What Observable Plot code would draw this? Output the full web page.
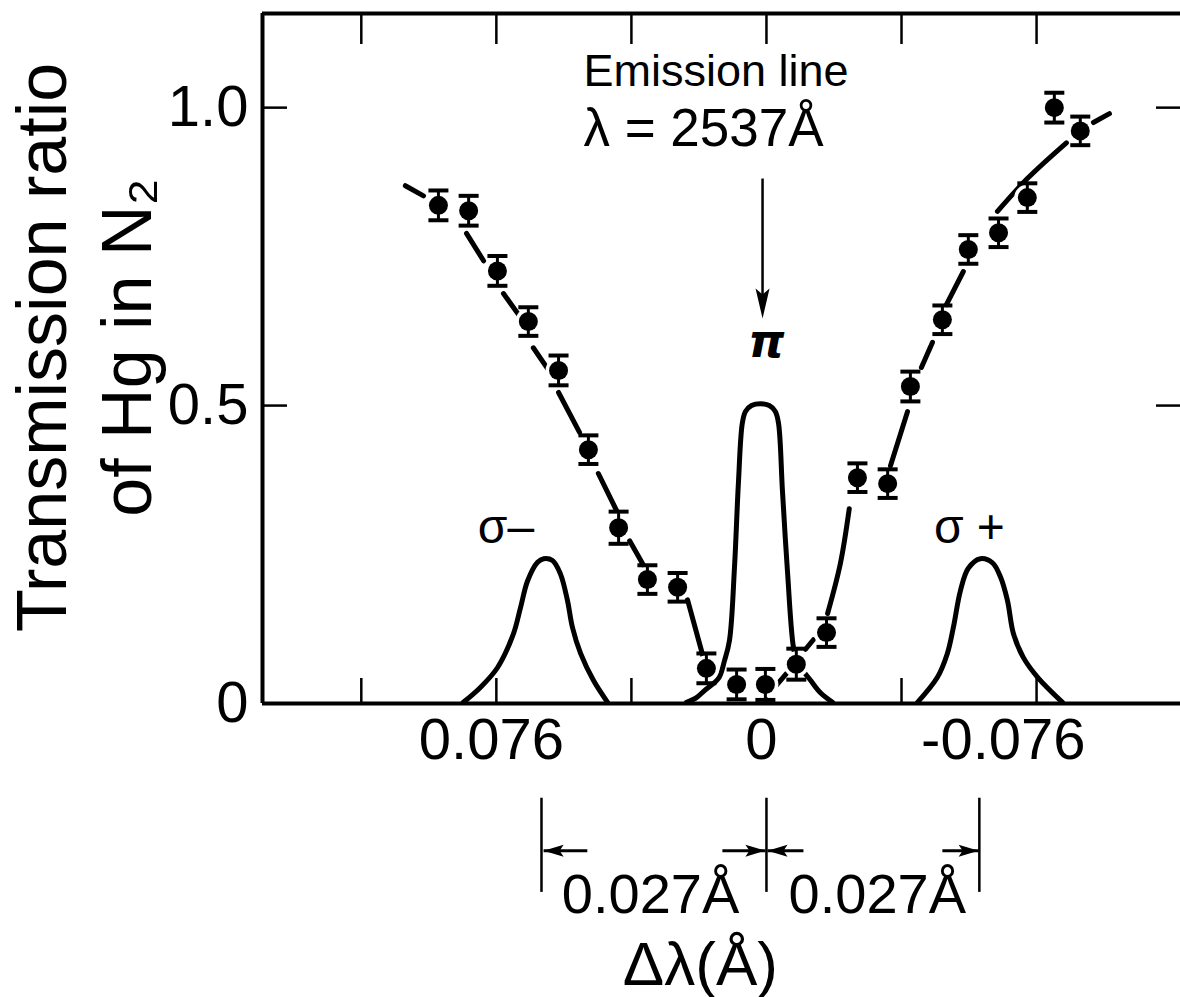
<!DOCTYPE html>
<html>
<head>
<meta charset="utf-8">
<script src="https://cdn.jsdelivr.net/npm/d3@7"></script>
<script src="https://cdn.jsdelivr.net/npm/@observablehq/plot@0.6"></script>
<style>
  html, body { margin: 0; padding: 0; background: #fff; }
  #chart svg { display: block; }
</style>
</head>
<body>
<div id="chart"></div>
<script>
// ---- axis ticks (Å and transmission ratio) ----
const xTickValues = [0.114, 0.076, 0.038, 0, -0.038, -0.076];
const xLabelValues = [0.076, 0, -0.076];
const yTickValues = [0, 0.5, 1.0];

// ---- measured transmission ratio (points with error bars) ----
const shift = [0.0923, 0.0838, 0.0757, 0.0670, 0.0585, 0.0501, 0.0416, 0.0335, 0.0250, 0.0169, 0.0084, 0.0003,
               -0.0084, -0.0169, -0.0256, -0.0341, -0.0405, -0.0495, -0.0568, -0.0653, -0.0734, -0.0810, -0.0883];
const ratio = [0.836, 0.827, 0.726, 0.641, 0.559, 0.426, 0.295, 0.208, 0.195, 0.059, 0.032, 0.032,
               0.066, 0.119, 0.379, 0.369, 0.532, 0.644, 0.762, 0.790, 0.849, 1.000, 0.961];
const err   = [0.025, 0.025, 0.025, 0.024, 0.025, 0.024, 0.027, 0.024, 0.024, 0.025, 0.025, 0.026,
               0.026, 0.024, 0.024, 0.024, 0.025, 0.024, 0.024, 0.024, 0.024, 0.025, 0.024];

// ---- hand-drawn fit curve (broken into dashes between the points) ----
const fitSeg = ["A","A","B","B","C","C","D","D","E","E","G","G","H","H","I","I","J","J","K","K",
                "L","L","L","M","M","N","N","O","O","P","P","P","Q","Q"];
const fitX = [0.1016, 0.0965, 0.0844, 0.0796, 0.0740, 0.0692, 0.0656, 0.0616, 0.0585, 0.0526,
              0.0473, 0.0422, 0.0385, 0.0346, 0.0222, 0.0177, -0.0020, -0.0056, -0.0110, -0.0132,
              -0.0172, -0.0208, -0.0233, -0.0349, -0.0397, -0.0436, -0.0467, -0.0506, -0.0554,
              -0.0650, -0.0734, -0.0844, -0.0920, -0.0965];
const fitY = [0.869, 0.852, 0.789, 0.743, 0.688, 0.648, 0.597, 0.562, 0.522, 0.455,
              0.386, 0.324, 0.273, 0.232, 0.174, 0.076, 0.025, 0.050, 0.091, 0.107,
              0.151, 0.235, 0.327, 0.399, 0.490, 0.564, 0.606, 0.669, 0.725,
              0.826, 0.881, 0.941, 0.975, 0.990];

// ---- Zeeman components of the emission line ----
const piX = [0.0225, 0.0197, 0.0172, 0.0135, 0.0118, 0.0104, 0.0090, 0.0079, 0.0068, 0.0059, 0.0042, 0.0017,
             -0.0008, -0.0025, -0.0034, -0.0045, -0.0059, -0.0076, -0.0087, -0.0124, -0.0152, -0.0186];
const piY = [0.002, 0.010, 0.023, 0.042, 0.072, 0.106, 0.228, 0.369, 0.470, 0.490, 0.500, 0.503,
             0.500, 0.490, 0.470, 0.357, 0.223, 0.094, 0.069, 0.039, 0.018, 0.002];
const sigmaMinusX = [0.0853, 0.0805, 0.0757, 0.0712, 0.0692, 0.0672, 0.0644, 0.0627, 0.0602, 0.0580,
                     0.0560, 0.0546, 0.0523, 0.0487, 0.0447];
const sigmaMinusY = [0.002, 0.027, 0.060, 0.117, 0.161, 0.206, 0.237, 0.243, 0.240, 0.218,
                     0.173, 0.128, 0.084, 0.039, 0.002];
const sigmaPlusX = [-0.0425, -0.0481, -0.0509, -0.0526, -0.0546, -0.0568, -0.0602, -0.0636, -0.0658,
                    -0.0678, -0.0695, -0.0723, -0.0763, -0.0833];
const sigmaPlusY = [0.002, 0.044, 0.084, 0.128, 0.190, 0.227, 0.243, 0.236, 0.213,
                    0.173, 0.117, 0.077, 0.044, 0.002];

// ---- splitting annotation below the axis ----
const splitBars = [0.0633, 0, -0.0599];
const splitArrowFrom = [0.0504, 0.0124, -0.0104, -0.0495];
const splitArrowTo   = [0.0627, 0.0003, -0.0003, -0.0597];
const splitLabelX = [0.0326, -0.0312];
const splitLabels = ["0.027Å", "0.027Å"];

// ---- build tables ----
const points = shift.map((x, i) => ({x, y: ratio[i], lo: ratio[i] - err[i], hi: ratio[i] + err[i]}));
const fit = fitX.map((x, i) => ({x, y: fitY[i], seg: fitSeg[i]}));
const pi = piX.map((x, i) => ({x, y: piY[i]}));
const sMinus = sigmaMinusX.map((x, i) => ({x, y: sigmaMinusY[i]}));
const sPlus = sigmaPlusX.map((x, i) => ({x, y: sigmaPlusY[i]}));
const arrows = splitArrowFrom.map((x1, i) => ({x1, x2: splitArrowTo[i], dir: splitArrowTo[i] < x1 ? 0 : 180}));

const xDomain = [0.1418, -0.1165];
const yDomain = [0, 1.158];
const barY = [-0.159, -0.317];
const arrowY = -0.247;

const FONT = "'Liberation Sans', Arial, Helvetica, sans-serif";

// custom symbols
const capSymbol = {draw(ctx) { ctx.moveTo(-10, 0); ctx.lineTo(10, 0); }};
const headBig = {draw(ctx) { ctx.moveTo(0, 0); ctx.lineTo(-30, -7); ctx.lineTo(-24, 0); ctx.lineTo(-30, 7); ctx.closePath(); }};
const headSmall = {draw(ctx) { ctx.moveTo(0, 0); ctx.lineTo(-20, -6); ctx.lineTo(-16, 0); ctx.lineTo(-20, 6); ctx.closePath(); }};

const chart = Plot.plot({
  width: 1180,
  height: 997,
  marginLeft: 262,
  marginRight: 0,
  marginTop: 13,
  marginBottom: 294,
  style: {fontFamily: FONT, background: "#fff", color: "#000", overflow: "visible"},
  x: {domain: xDomain},
  y: {domain: yDomain},
  marks: [
    // frame (top, left, bottom)
    Plot.ruleY([yDomain[1]], {stroke: "#000", strokeWidth: 4}),
    Plot.ruleY([0], {stroke: "#000", strokeWidth: 4}),
    Plot.ruleX([xDomain[0]], {y1: 0, y2: yDomain[1], stroke: "#000", strokeWidth: 4}),
    // ticks
    Plot.axisX({anchor: "top", ticks: xTickValues, tickSize: -30, tickFormat: () => "", strokeWidth: 2.5, label: null}),
    Plot.axisX({anchor: "bottom", ticks: xTickValues, tickSize: -25, tickFormat: () => "", strokeWidth: 2.5, label: null}),
    Plot.axisX({anchor: "bottom", ticks: [0.076, 0], tickSize: 0, tickPadding: 14, fontSize: 58, dx: -5,
                tickFormat: d => d === 0 ? "0" : String(d), label: null}),
    Plot.axisX({anchor: "bottom", ticks: [-0.076], tickSize: 0, tickPadding: 14, fontSize: 58, textAnchor: "end", dx: 49,
                tickFormat: d => String(d), label: null}),
    Plot.axisY({anchor: "left", ticks: [0.5, 1.0], tickSize: -25, tickFormat: () => "", strokeWidth: 2.5, label: null}),
    Plot.axisY({anchor: "right", ticks: [0.5, 1.0], tickSize: -25, tickFormat: () => "", strokeWidth: 2.5, label: null}),
    Plot.axisY({anchor: "left", ticks: yTickValues, tickSize: 0, tickPadding: 14, fontSize: 58,
                tickFormat: d => d === 0 ? "0" : d.toFixed(1), label: null}),
    // y-axis title
    Plot.text(["Transmission ratio"], {frameAnchor: "left", rotate: -90, dx: -197, dy: -11, textAnchor: "middle", lineAnchor: "bottom", fontSize: 70}),
    Plot.text(["of Hg in N₂"], {frameAnchor: "left", rotate: -90, dx: -112, dy: -11, textAnchor: "middle", lineAnchor: "bottom", fontSize: 70}),
    // Zeeman components
    Plot.line(pi, {x: "x", y: "y", curve: "catmull-rom", stroke: "#000", strokeWidth: 5}),
    Plot.line(sMinus, {x: "x", y: "y", curve: "catmull-rom", stroke: "#000", strokeWidth: 5}),
    Plot.line(sPlus, {x: "x", y: "y", curve: "catmull-rom", stroke: "#000", strokeWidth: 5}),
    // fit curve dashes
    Plot.line(fit, {x: "x", y: "y", z: "seg", curve: "catmull-rom", stroke: "#000", strokeWidth: 5, strokeLinecap: "round"}),
    // white halo around the measured points
    Plot.dot(points, {x: "x", y: "y", r: 13, fill: "#fff", stroke: null}),
    // error bars
    Plot.ruleX(points, {x: "x", y1: "lo", y2: "hi", stroke: "#000", strokeWidth: 3}),
    Plot.dot(points, {x: "x", y: "lo", symbol: capSymbol, stroke: "#000", fill: "none", strokeWidth: 4}),
    Plot.dot(points, {x: "x", y: "hi", symbol: capSymbol, stroke: "#000", fill: "none", strokeWidth: 4}),
    Plot.dot(points, {x: "x", y: "y", r: 9.5, fill: "#000", stroke: null}),
    // emission line annotation
    Plot.text(["Emission line"], {x: 0.0515, y: 1.036, textAnchor: "start", lineAnchor: "bottom", fontSize: 45}),
    Plot.text(["λ = 2537Å"], {x: 0.0515, y: 0.936, textAnchor: "start", lineAnchor: "bottom", fontSize: 53}),
    Plot.link([0], {x1: 0.0011, x2: 0.0011, y1: 0.881, y2: 0.665, stroke: "#000", strokeWidth: 2.5}),
    Plot.dot([0], {x: 0.0011, y: 0.646, symbol: headBig, rotate: 90, fill: "#000", stroke: null}),
    Plot.text(["π"], {x: 0, y: 0.606, fontSize: 46, fontStyle: "italic", fontWeight: "bold", fontFamily: "'DejaVu Sans', sans-serif"}),
    Plot.text(["σ–"], {x: 0.0733, y: 0.295, fontSize: 48}),
    Plot.text(["σ +"], {x: -0.0571, y: 0.295, fontSize: 48}),
    // splitting annotation
    Plot.ruleX(splitBars, {y1: barY[0], y2: barY[1], stroke: "#000", strokeWidth: 2.5}),
    Plot.link(arrows, {x1: "x1", x2: "x2", y1: arrowY, y2: arrowY, stroke: "#000", strokeWidth: 3}),
    Plot.dot(arrows, {x: "x2", y: arrowY, symbol: headSmall, rotate: "dir", fill: "#000", stroke: null}),
    Plot.text(splitLabels, {x: (d, i) => splitLabelX[i], y: -0.352, lineAnchor: "bottom", fontSize: 56}),
    Plot.text(["Δλ(Å)"], {x: 0.0186, y: -0.473, lineAnchor: "bottom", fontSize: 62})
  ]
});
document.getElementById("chart").appendChild(chart);
</script>
</body>
</html>
